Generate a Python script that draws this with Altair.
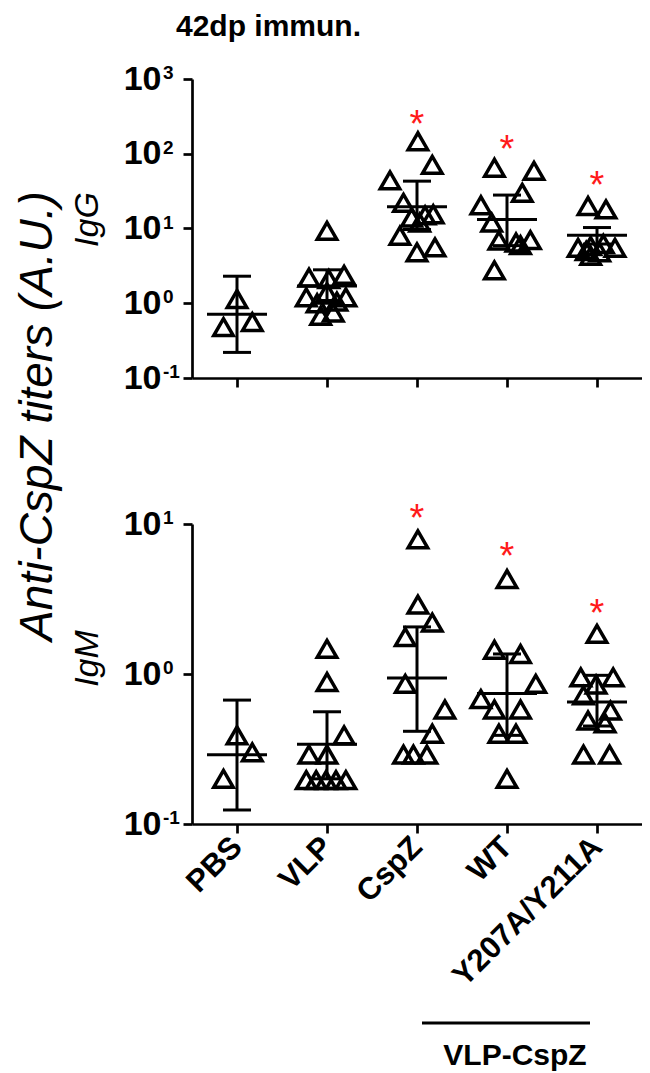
import altair as alt
import pandas as pd

FONT = "Liberation Sans"
groups = ["PBS", "VLP", "CspZ", "WT", "Y207A/Y211A"]

# ---- IgG (top panel) individual animals: group index, horizontal jitter (group units), titer
igg_group = [0, 0, 0,
             1, 1, 1, 1, 1, 1, 1, 1, 1, 1, 1,
             2, 2, 2, 2, 2, 2, 2, 2, 2, 2, 2,
             3, 3, 3, 3, 3, 3, 3, 3, 3, 3,
             4, 4, 4, 4, 4, 4, 4, 4, 4]
igg_jitter = [0.0, -0.15, 0.17,
              0.0, -0.20, 0.02, 0.19, -0.23, 0.0, 0.21, -0.11, 0.11, -0.07, 0.07,
              0.01, 0.17, -0.30, -0.15, -0.06, 0.09, 0.18, 0.03, -0.19, 0.0, 0.20,
              -0.14, 0.30, 0.17, -0.29, -0.17, -0.09, 0.10, 0.26, 0.15, -0.14,
              -0.10, 0.10, -0.21, -0.07, 0.07, 0.20, -0.07, 0.03, -0.12]
igg_value = [1.14, 0.48, 0.56,
             9.3, 2.2, 2.1, 2.4, 1.2, 1.4, 1.2, 1.0, 1.05, 0.68, 0.75,
             147, 71, 44, 22, 14, 15, 15.5, 12, 8, 4.8, 5.6,
             65, 59, 30, 20.5, 12, 6.9, 6.5, 7.0, 6.0, 2.75,
             20, 18, 5.5, 5.8, 6.2, 5.5, 4.3, 4.8, 5.0]

# IgG mean and error bars
igg_mean = [0.71, 1.7, 19.6, 13.2, 8.1]
igg_low = [0.22, 1.0, 9.7, 5.9, 6.2]
igg_high = [2.3, 2.8, 43, 28, 10.3]
igg_star_group = [2, 3, 4]
igg_star_y = [330, 155, 51]

# ---- IgM (bottom panel)
igm_group = [0, 0, 0,
             1, 1, 1, 1, 1, 1, 1, 1, 1, 1,
             2, 2, 2, 2, 2, 2, 2, 2, 2, 2,
             3, 3, 3, 3, 3, 3, 3, 3, 3, 3,
             4, 4, 4, 4, 4, 4, 4, 4, 4, 4]
igm_jitter = [0.0, 0.17, -0.15,
              0.0, 0.0, 0.19, -0.20, 0.0, -0.23, -0.12, -0.01, 0.10, 0.21,
              0.01, 0.01, 0.17, -0.13, -0.13, 0.31, 0.17, -0.15, -0.04, 0.11,
              0.0, -0.14, 0.15, 0.32, -0.29, -0.14, 0.15, -0.09, 0.10, 0.0,
              0.0, -0.18, 0.18, -0.15, -0.01, 0.15, -0.10, 0.09, -0.15, 0.14]
igm_value = [0.39, 0.30, 0.20,
             1.47, 0.885, 0.39, 0.29, 0.29, 0.196, 0.196, 0.196, 0.196, 0.196,
             7.9, 2.9, 2.2, 1.76, 0.86, 0.58, 0.40, 0.29, 0.29, 0.29,
             4.3, 1.45, 1.36, 0.86, 0.68, 0.58, 0.58, 0.40, 0.40, 0.20,
             1.85, 0.95, 0.95, 0.72, 0.85, 0.57, 0.49, 0.47, 0.29, 0.29]

igm_mean = [0.29, 0.34, 0.94, 0.74, 0.65]
igm_low = [0.124, 0.2, 0.415, 0.39, 0.45]
igm_high = [0.67, 0.56, 2.06, 1.36, 0.98]
igm_star_group = [2, 3, 4]
igm_star_y = [12.6, 7.0, 2.93]

igg_ticks = [0.1, 1, 10, 100, 1000]
igg_exps = ["-1", "0", "1", "2", "3"]
igm_ticks = [0.1, 1, 10]
igm_exps = ["-1", "0", "1"]

label_expr = "[" + ",".join("'%s'" % g for g in groups) + "][datum.value]"


def x_enc(field, labels):
    return alt.X(
        field + ":Q",
        scale=alt.Scale(domain=[-0.5, 4.5], nice=False, zero=False),
        axis=alt.Axis(
            values=[0, 1, 2, 3, 4], title=None, grid=False,
            labels=labels, labelExpr=label_expr, labelAngle=-45,
            labelAlign="right", labelBaseline="middle", labelPadding=9,
            labelFont=FONT, labelFontSize=31, labelFontWeight="bold",
            labelColor="black", labelLimit=400,
            tickSize=9, tickWidth=2.7, tickColor="black",
            domainWidth=2.7, domainColor="black", labelOverlap=False,
        ),
    )


def y_enc(field, ticks, dom, title, title_y):
    return alt.Y(
        field + ":Q",
        scale=alt.Scale(type="log", domain=dom, nice=False),
        axis=alt.Axis(
            values=ticks, labelExpr="'10'", grid=False,
            labelFont=FONT, labelFontSize=34, labelFontWeight="bold",
            labelColor="black", labelPadding=22,
            tickSize=9, tickWidth=2.7, tickColor="black",
            domainWidth=2.7, domainColor="black",
            title=title, titleFont=FONT, titleFontSize=34,
            titleFontStyle="italic", titleFontWeight="normal",
            titleColor="black", titleAngle=270, titleAlign="center",
            titleBaseline="alphabetic", titleX=-95, titleY=title_y,
        ),
    )


def panel(grp, jit, vals, mean, low, high, sgrp, sy, ticks, exps, dom,
          height, title, title_y, labels):
    pts = pd.DataFrame({"g": grp, "j": jit, "v": vals})
    pts["pos"] = pts["g"] + pts["j"]
    st = pd.DataFrame({"idx": list(range(len(groups))), "mean": mean,
                       "low": low, "high": high})
    stars = pd.DataFrame({"idx": sgrp, "sy": sy})
    tk = pd.DataFrame({"t": ticks, "e": exps})

    yargs = (ticks, dom, title, title_y)

    points = alt.Chart(pts).mark_point(
        shape="triangle-up", filled=False, color="black",
        strokeWidth=3.5, size=380, opacity=1,
    ).encode(x=x_enc("pos", labels), y=y_enc("v", *yargs))

    mean_tick = alt.Chart(st).mark_tick(
        orient="horizontal", color="black", size=60, thickness=3, opacity=1,
    ).encode(x=x_enc("idx", labels), y=y_enc("mean", *yargs))

    err_rule = alt.Chart(st).mark_rule(color="black", strokeWidth=3).encode(
        x=x_enc("idx", labels), y=y_enc("low", *yargs), y2="high:Q")

    cap_lo = alt.Chart(st).mark_tick(
        orient="horizontal", color="black", size=28, thickness=3, opacity=1,
    ).encode(x=x_enc("idx", labels), y=y_enc("low", *yargs))

    cap_hi = alt.Chart(st).mark_tick(
        orient="horizontal", color="black", size=28, thickness=3, opacity=1,
    ).encode(x=x_enc("idx", labels), y=y_enc("high", *yargs))

    star = alt.Chart(stars).mark_text(
        text="*", color="#ff1a1a", font=FONT, fontSize=38,
        baseline="alphabetic", dy=22,
    ).encode(x=x_enc("idx", labels), y=y_enc("sy", *yargs))

    expo = alt.Chart(tk).mark_text(
        align="left", baseline="middle", font=FONT, fontSize=19,
        fontWeight="bold", color="black", dy=-6,
    ).encode(x=alt.value(-29), y=y_enc("t", *yargs), text="e:N")

    layers = [err_rule, cap_lo, cap_hi, mean_tick, points, star, expo]
    return layers


top_layers = panel(igg_group, igg_jitter, igg_value, igg_mean, igg_low,
                   igg_high, igg_star_group, igg_star_y, igg_ticks, igg_exps,
                   [0.1, 1000], 299, "IgG", 140, False)

title_df = pd.DataFrame({"t": ["42dp immun."]})
ytitle_df = pd.DataFrame({"t": ["Anti-CspZ titers (A.U.)"]})

title_mark = alt.Chart(title_df).mark_text(
    align="left", baseline="alphabetic", font=FONT, fontSize=30,
    fontWeight="bold", color="black",
).encode(x=alt.value(-16), y=alt.value(-43), text="t:N")

ytitle_mark = alt.Chart(ytitle_df).mark_text(
    align="center", baseline="middle", font=FONT, fontSize=46,
    fontStyle="italic", color="black", angle=270,
).encode(x=alt.value(-154), y=alt.value(337), text="t:N")

top = alt.layer(*top_layers, title_mark, ytitle_mark).properties(
    width=450, height=299)

bot_layers = panel(igm_group, igm_jitter, igm_value, igm_mean, igm_low,
                   igm_high, igm_star_group, igm_star_y, igm_ticks, igm_exps,
                   [0.1, 10], 300, "IgM", 134, True)

grp_df = pd.DataFrame({"t": ["VLP-CspZ"]})
bracket = alt.Chart(grp_df).mark_rule(color="black", strokeWidth=3).encode(
    x=alt.value(230), x2=alt.value(398), y=alt.value(499))
grp_text = alt.Chart(grp_df).mark_text(
    align="center", baseline="middle", font=FONT, fontSize=30,
    fontWeight="bold", color="black",
).encode(x=alt.value(323), y=alt.value(532), text="t:N")

bottom = alt.layer(*bot_layers, bracket, grp_text).properties(
    width=450, height=300)

chart = alt.vconcat(top, bottom, spacing=146, bounds="flush").properties(
    padding={"left": 7, "top": 4, "right": 0, "bottom": 0},
    background="white",
).configure_view(stroke=None)

chart.save("out.html", embed_options={"renderer": "svg", "actions": False})
